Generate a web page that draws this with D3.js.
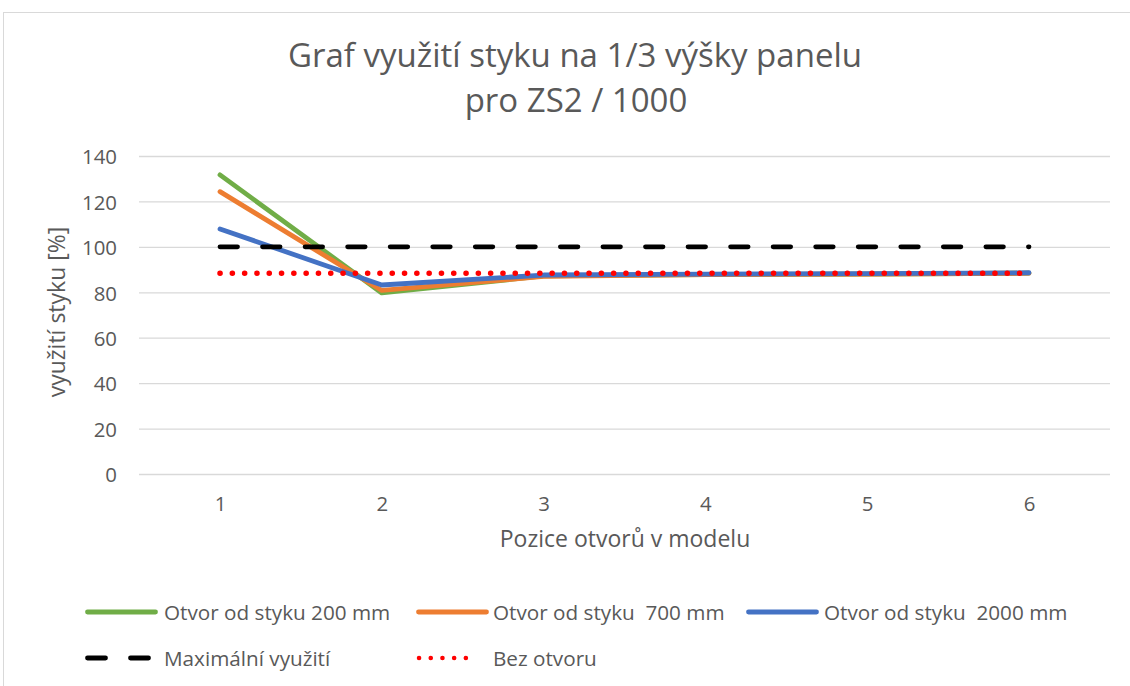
<!DOCTYPE html>
<html>
<head>
<meta charset="utf-8">
<script src="https://cdn.jsdelivr.net/npm/d3@7"></script>
<style>
  body { margin: 0; background: #fff; }
  text { font-family: "Open Sans", sans-serif; fill: #595959; white-space: pre; }
</style>
</head>
<body>
<svg id="chart" width="1130" height="686"></svg>
<script>
// data
const positions = [1, 2, 3, 4, 5, 6]
const otvor200 = [131.7, 79.7, 87.2, 87.8, 88.0, 88.4]
const otvor700 = [124.3, 80.8, 87.0, 87.8, 88.0, 88.4]
const otvor2000 = [107.9, 83.2, 87.6, 88.0, 88.2, 88.6]
const maxVyuziti = [100, 100, 100, 100, 100, 100]
const bezOtvoru = [88.4, 88.4, 88.4, 88.4, 88.4, 88.4]
const yTicks = [0, 20, 40, 60, 80, 100, 120, 140]

const series = [
  { name: 'Otvor od styku 200 mm', values: otvor200, color: '#70AD47', dash: null },
  { name: 'Otvor od styku  700 mm', values: otvor700, color: '#ED7D31', dash: null },
  { name: 'Otvor od styku  2000 mm', values: otvor2000, color: '#4472C4', dash: null },
  { name: 'Maximální využití', values: maxVyuziti, color: '#000000', dash: '17.5 25.05' },
  { name: 'Bez otvoru', values: bezOtvoru, color: '#FF0000', dash: '0.1 12.2' }
]

const svg = d3.select('#chart')

// chart frame
svg.append('rect')
  .attr('x', 3.5).attr('y', 12.5)
  .attr('width', 1140).attr('height', 690)
  .attr('fill', 'none').attr('stroke', '#d9d9d9').attr('stroke-width', 1)

// scales
const plotLeft = 139, plotRight = 1110, plotTop = 156, plotBottom = 474
const xScale = d3.scalePoint().domain(positions).range([220, 1029])
const yScale = d3.scaleLinear().domain([0, 140]).range([plotBottom, plotTop])

// grid
svg.append('g')
  .selectAll('line')
  .data(yTicks)
  .enter()
  .append('line')
  .attr('x1', plotLeft).attr('x2', plotRight)
  .attr('y1', d => yScale(d) + 0.5).attr('y2', d => yScale(d) + 0.5)
  .attr('stroke', '#d9d9d9').attr('stroke-width', 1.3)

// y axis labels
const yAxis = svg.append('g')
  .attr('transform', `translate(${plotLeft},0)`)
  .call(d3.axisLeft(yScale).tickValues(yTicks).tickSize(0).tickPadding(22))
yAxis.select('.domain').remove()
yAxis.selectAll('text').style('font-size', '20.4px').attr('fill', '#595959').attr('dy', '0.38em')

// x axis labels
const xAxis = svg.append('g')
  .attr('transform', `translate(0,${plotBottom})`)
  .call(d3.axisBottom(xScale).tickSize(0).tickPadding(23))
xAxis.select('.domain').remove()
xAxis.selectAll('text').style('font-size', '20.4px').attr('fill', '#595959')

// lines
const line = d3.line()
  .x((d, i) => xScale(positions[i]))
  .y(d => yScale(d))

svg.append('g')
  .selectAll('path')
  .data(series)
  .enter()
  .append('path')
  .attr('d', d => line(d.values))
  .attr('fill', 'none')
  .attr('stroke', d => d.color)
  .attr('stroke-width', d => d.color === '#FF0000' ? 5.5 : 4.8)
  .attr('stroke-linecap', 'round')
  .attr('stroke-linejoin', 'round')
  .attr('stroke-dasharray', d => d.dash)

// title
const title = svg.append('text')
  .attr('text-anchor', 'middle')
  .style('font-size', '33px')
title.append('tspan').attr('x', 575).attr('y', 67).text('Graf využití styku na 1/3 výšky panelu')
title.append('tspan').attr('x', 576).attr('y', 112).text('pro ZS2 / 1000')

// axis titles
svg.append('text')
  .attr('transform', 'translate(65,312) rotate(-90)')
  .attr('text-anchor', 'middle')
  .style('font-size', '23px')
  .text('využití styku [%]')

svg.append('text')
  .attr('x', 625).attr('y', 547)
  .attr('text-anchor', 'middle')
  .style('font-size', '23px')
  .text('Pozice otvorů v modelu')

// legend
const legendPos = [
  { x: 87.5, y: 612, tx: 164 }, { x: 418.5, y: 612, tx: 493 }, { x: 748.5, y: 612, tx: 824 },
  { x: 87.5, y: 658, tx: 164 }, { x: 419, y: 658, tx: 493 }
]
const legend = svg.append('g')
  .selectAll('g')
  .data(series)
  .enter()
  .append('g')
  .attr('transform', (d, i) => `translate(0,${legendPos[i].y})`)

legend.append('line')
  .attr('x1', (d, i) => legendPos[i].x)
  .attr('x2', (d, i) => i === 3 ? legendPos[i].x + 61 : (i === 4 ? legendPos[i].x + 58.1 : legendPos[i].x + 68))
  .attr('y1', 0).attr('y2', 0)
  .attr('stroke', d => d.color)
  .attr('stroke-width', (d, i) => i === 4 ? 4.5 : 4.8)
  .attr('stroke-linecap', 'round')
  .attr('stroke-dasharray', (d, i) => i === 3 ? '18 25' : (i === 4 ? '0.1 11.6' : null))

legend.append('text')
  .attr('x', (d, i) => legendPos[i].tx)
  .attr('y', 8)
  .style('font-size', '20.7px')
  .text(d => d.name)
</script>
</body>
</html>
